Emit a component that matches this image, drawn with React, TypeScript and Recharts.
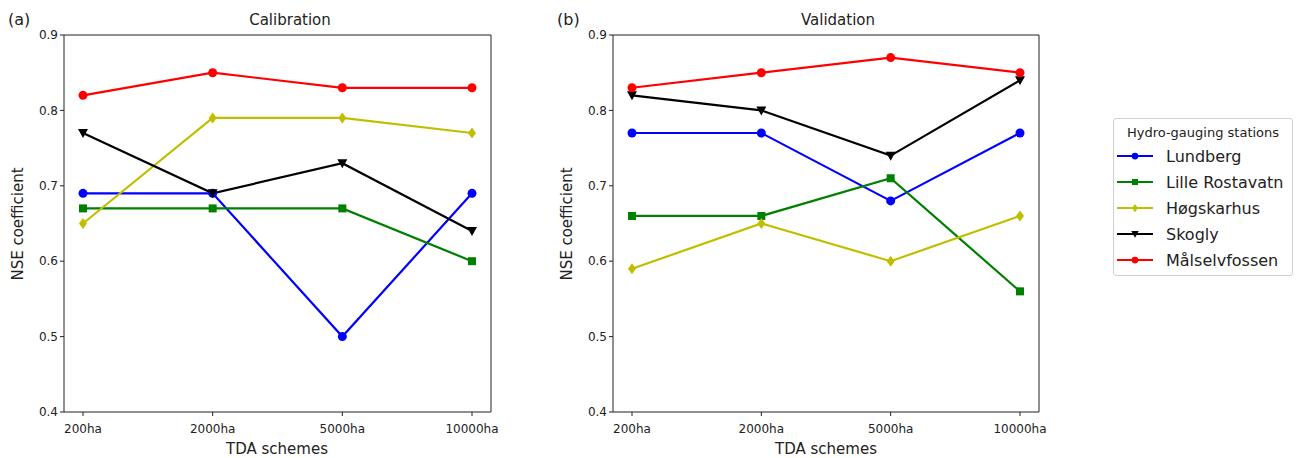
import React from "react";
import { Line, LineChart, XAxis, YAxis } from "recharts";

const schemes = ["200ha", "2000ha", "5000ha", "10000ha"];
const yTicks = [0.4, 0.5, 0.6, 0.7, 0.8, 0.9];

// calibration NSE
const lundbergCal = [0.69, 0.69, 0.5, 0.69];
const lilleCal = [0.67, 0.67, 0.67, 0.6];
const hogskarhusCal = [0.65, 0.79, 0.79, 0.77];
const skoglyCal = [0.77, 0.69, 0.73, 0.64];
const malselvCal = [0.82, 0.85, 0.83, 0.83];

// validation NSE
const lundbergVal = [0.77, 0.77, 0.68, 0.77];
const lilleVal = [0.66, 0.66, 0.71, 0.56];
const hogskarhusVal = [0.59, 0.65, 0.6, 0.66];
const skoglyVal = [0.82, 0.8, 0.74, 0.84];
const malselvVal = [0.83, 0.85, 0.87, 0.85];

const stations = [
  { name: "Lundberg", color: "#0000ff", shape: "circle", cal: lundbergCal, val: lundbergVal },
  { name: "Lille Rostavatn", color: "#008000", shape: "square", cal: lilleCal, val: lilleVal },
  { name: "Høgskarhus", color: "#bfbf00", shape: "diamond", cal: hogskarhusCal, val: hogskarhusVal },
  { name: "Skogly", color: "#000000", shape: "triangle", cal: skoglyCal, val: skoglyVal },
  { name: "Målselvfossen", color: "#ff0000", shape: "circle", cal: malselvCal, val: malselvVal },
];

const font = "'DejaVu Sans', sans-serif";
const ink = "#222";

const buildRows = (key: "cal" | "val") =>
  schemes.map((s, i) => {
    const row: any = { scheme: s };
    stations.forEach((st) => (row[st.name] = st[key][i]));
    return row;
  });

const Marker = ({ cx, cy, shape, color, s = 1 }: any) => {
  if (cx == null || cy == null) return null;
  if (shape === "square") return <rect x={cx - 4 * s} y={cy - 4 * s} width={8 * s} height={8 * s} fill={color} />;
  if (shape === "diamond")
    return (
      <polygon
        points={`${cx},${cy - 5.5 * s} ${cx + 4 * s},${cy} ${cx},${cy + 5.5 * s} ${cx - 4 * s},${cy}`}
        fill={color}
      />
    );
  if (shape === "triangle")
    return (
      <polygon
        points={`${cx - 5 * s},${cy - 4 * s} ${cx + 5 * s},${cy - 4 * s} ${cx},${cy + 5 * s}`}
        fill={color}
      />
    );
  return <circle cx={cx} cy={cy} r={4.5 * s} fill={color} />;
};

const Label = ({ x, y, size, children, rotate, anchor = "center" }: any) => (
  <div
    style={{
      position: "absolute",
      left: x,
      top: y,
      fontSize: size,
      color: ink,
      whiteSpace: "nowrap",
      lineHeight: 1,
      transform: `translate(${anchor === "left" ? "0" : "-50%"}, -50%)${rotate ? " rotate(-90deg)" : ""}`,
    }}
  >
    {children}
  </div>
);

const Panel = ({ left, data, margin }: any) => (
  <div style={{ position: "absolute", left, top: 0 }}>
    <LineChart width={540} height={458} data={data} margin={margin}>
      <XAxis
        dataKey="scheme"
        interval={0}
        padding={{ left: 19, right: 19 }}
        height={30}
        tickSize={4}
        tickMargin={8}
        stroke={ink}
        tick={{ fontSize: 12, fill: ink, fontFamily: font }}
      />
      {/* top and right spines of the box */}
      <XAxis xAxisId="top" orientation="top" dataKey="scheme" mirror tick={false} tickLine={false} stroke={ink} />
      <YAxis
        width={64}
        domain={[0.4, 0.9]}
        ticks={yTicks}
        tickSize={4}
        tickMargin={2}
        stroke={ink}
        tickFormatter={(v: number) => v.toFixed(1)}
        tick={{ fontSize: 12, fill: ink, fontFamily: font }}
      />
      <YAxis yAxisId="right" orientation="right" mirror domain={[0.4, 0.9]} tick={false} tickLine={false} stroke={ink} />
      {stations.map((st) => (
        <Line
          key={st.name}
          type="linear"
          dataKey={st.name}
          stroke={st.color}
          strokeWidth={2.2}
          isAnimationActive={false}
          activeDot={false}
          dot={(p: any) => <Marker key={`${st.name}-${p.index}`} cx={p.cx} cy={p.cy} shape={st.shape} color={st.color} />}
        />
      ))}
    </LineChart>
  </div>
);

const LegendBox = () => (
  <div
    style={{
      position: "absolute",
      left: 1113,
      top: 118,
      width: 180,
      height: 158,
      border: "1px solid #d0d0d0",
      borderRadius: 3,
      boxSizing: "border-box",
      background: "#fff",
    }}
  >
    <div style={{ position: "absolute", left: 0, width: "100%", top: 6, textAlign: "center", fontSize: 13, color: ink }}>
      Hydro-gauging stations
    </div>
    {stations.map((st, i) => (
      <div key={st.name} style={{ position: "absolute", left: 2, top: 25 + i * 26, height: 24, display: "flex", alignItems: "center" }}>
        <svg width={38} height={24}>
          <line x1={1} y1={12} x2={37} y2={12} stroke={st.color} strokeWidth={2.2} />
          <Marker cx={19} cy={12} shape={st.shape} color={st.color} s={0.75} />
        </svg>
        <span style={{ marginLeft: 12, fontSize: 16, color: ink }}>{st.name}</span>
      </div>
    ))}
  </div>
);

export default function App() {
  const cal = buildRows("cal");
  const val = buildRows("val");
  return (
    <div style={{ position: "absolute", left: 0, top: 0, width: 1298, height: 458, background: "#fff", fontFamily: font }}>
      <Panel left={0} data={cal} margin={{ top: 35, right: 49, bottom: 16, left: 0 }} />
      <Panel left={540} data={val} margin={{ top: 35, right: 41, bottom: 16, left: 9 }} />

      <Label x={8} y={20} size={16} anchor="left">(a)</Label>
      <Label x={290} y={20} size={15}>Calibration</Label>
      <Label x={18} y={224} size={15} rotate>NSE coefficient</Label>
      <Label x={277} y={449} size={15}>TDA schemes</Label>

      <Label x={557} y={20} size={16} anchor="left">(b)</Label>
      <Label x={838} y={20} size={15}>Validation</Label>
      <Label x={567} y={224} size={15} rotate>NSE coefficient</Label>
      <Label x={826} y={449} size={15}>TDA schemes</Label>

      <LegendBox />
    </div>
  );
}
